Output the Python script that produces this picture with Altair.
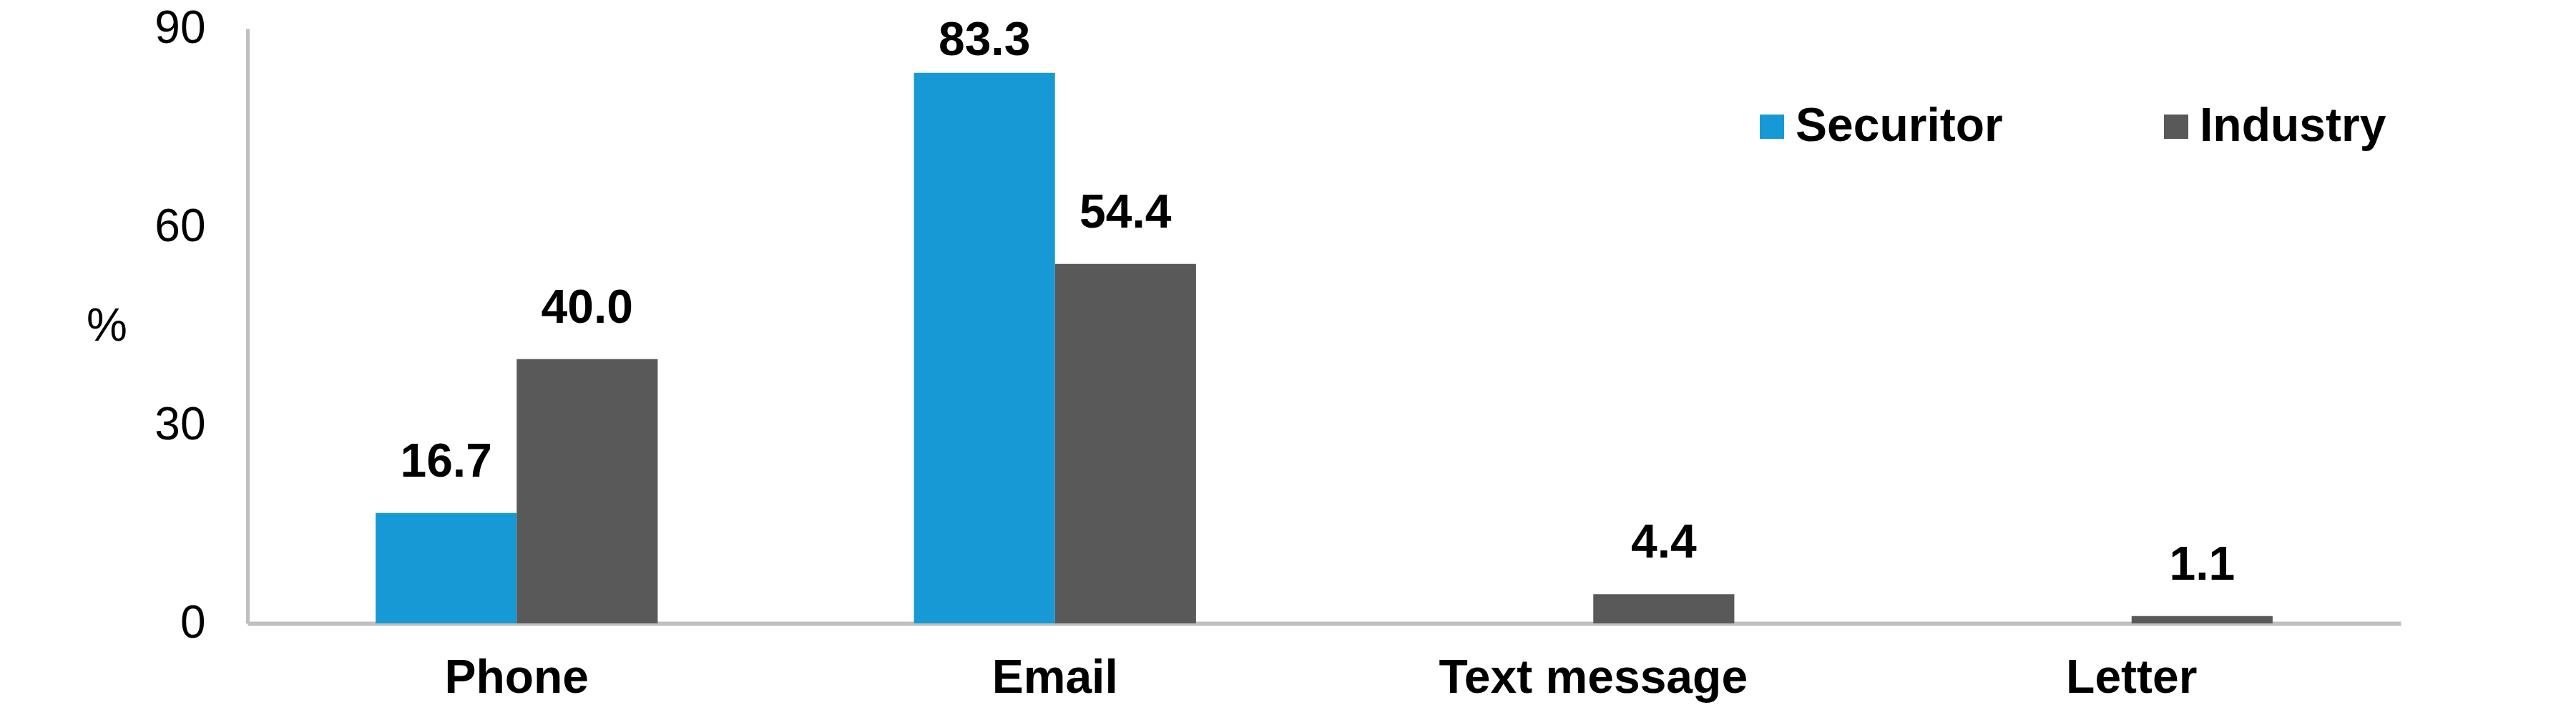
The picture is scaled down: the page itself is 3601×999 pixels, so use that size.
import altair as alt
import pandas as pd

categories = ["Phone", "Email", "Text message", "Letter"]
series = ["Securitor", "Industry"]
securitor = [16.7, 83.3, None, None]
industry = [40.0, 54.4, 4.4, 1.1]
colors = ["#1799D6", "#595959"]
y_ticks = [0, 30, 60, 90]
label_cap = 80.5  # labels near the top are held inside the chart, as in the original

FONT = "Liberation Sans"

rows = []
for c, s_val, i_val in zip(categories, securitor, industry):
    rows.append({"category": c, "series": "Securitor", "value": s_val})
    rows.append({"category": c, "series": "Industry", "value": i_val})
df = pd.DataFrame(rows)

x_enc = alt.X(
    "category:N", sort=categories,
    scale=alt.Scale(paddingInner=0.476, paddingOuter=0.238),
    axis=alt.Axis(title=None, labelAngle=0, labelFont=FONT, labelFontSize=66,
                  labelFontWeight="bold", labelColor="black", labelPadding=44,
                  labelLimit=0, ticks=False, tickSize=0,
                  domainColor="#BFBFBF", domainWidth=6),
)
xoff_enc = alt.XOffset("series:N", sort=series,
                       scale=alt.Scale(domain=series, paddingInner=0, paddingOuter=0))
y_scale = alt.Scale(domain=[0, 90])
y_enc = alt.Y(
    "value:Q", scale=y_scale,
    axis=alt.Axis(values=y_ticks, title="%", titleAngle=0, titleX=-197, titleY=416,
                  titleAlign="center", titleBaseline="middle", titleFont=FONT,
                  titleFontWeight="normal", titleFontSize=64, titleColor="black",
                  grid=False, ticks=False, tickSize=0, labelPadding=59,
                  labelFont=FONT, labelFontSize=64, labelColor="black",
                  domainColor="#BFBFBF", domainWidth=5),
)

base = alt.Chart(df).transform_filter("isValid(datum.value)")

bars = base.mark_bar().encode(
    x=x_enc, xOffset=xoff_enc, y=y_enc,
    color=alt.Color("series:N", sort=series,
                    scale=alt.Scale(domain=series, range=colors),
                    legend=alt.Legend(title=None, orient="none", legendX=2098, legendY=104,
                                      direction="horizontal", symbolType="square",
                                      symbolSize=1156, symbolStrokeWidth=0,
                                      labelFont=FONT, labelFontSize=66,
                                      labelFontWeight="bold", labelColor="black",
                                      labelLimit=0, labelOffset=0, columnPadding=209,
                                      padding=0)),
)

labels = base.transform_calculate(
    label_pos=f"min(datum.value, {label_cap})"
).mark_text(dy=-51, baseline="alphabetic", align="center", font=FONT,
            fontSize=66, fontWeight="bold", color="black").encode(
    x=x_enc, xOffset=xoff_enc,
    y=alt.Y("label_pos:Q", scale=y_scale),
    text=alt.Text("value:Q", format=".1f"),
)

chart = (bars + labels).properties(
    width=3010, height=831,
    autosize=alt.AutoSizeParams(type="none"),
    padding={"left": 338, "top": 32, "right": 200, "bottom": 119},
).configure(background="white").configure_view(stroke="transparent", strokeWidth=0)

chart.save("out.html", embed_options={"renderer": "svg", "actions": False})
